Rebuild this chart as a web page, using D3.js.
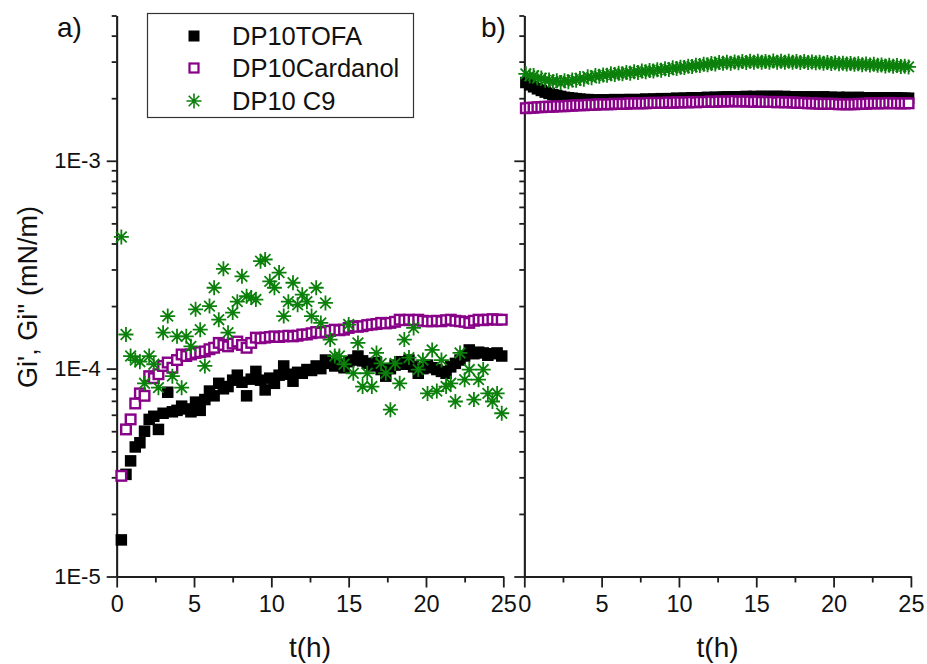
<!DOCTYPE html>
<html><head><meta charset="utf-8">
<script src="https://cdn.jsdelivr.net/npm/d3@7"></script>
<style>body{margin:0;background:#fff}svg{display:block}</style>
</head><body><svg id="c" width="927" height="664"></svg>
<script>
// ---------- data ----------
const seriesNames = ["DP10TOFA", "DP10Cardanol", "DP10 C9"];
const xTicks = [0, 5, 10, 15, 20, 25];
const xMinorTicks = [2.5, 7.5, 12.5, 17.5, 22.5];
const yTicks = [1e-5, 1e-4, 1e-3];
const panelLabels = ["a)", "b)"];

// panel a) time (h)
const tA = [0.3,0.6,0.9,1.2,1.5,1.8,2.1,2.4,2.7,3.0,3.3,3.6,3.9,4.2,4.5,4.8,5.1,5.4,5.7,6.0,
6.3,6.6,6.9,7.2,7.5,7.8,8.1,8.4,8.7,9.0,9.3,9.6,9.9,10.2,10.5,10.8,11.1,11.4,11.7,12.0,
12.3,12.6,12.9,13.2,13.5,13.8,14.1,14.4,14.7,15.0,15.3,15.6,15.9,16.2,16.5,16.8,17.1,17.4,17.7,18.0,
18.3,18.6,18.9,19.2,19.5,19.8,20.1,20.4,20.7,21.0,21.3,21.6,21.9,22.2,22.5,22.8,23.1,23.4,23.7,24.0,
24.3,24.6,24.9];
const tofaA = [1.5e-5,3.1e-5,3.6e-5,4.2e-5,4.4e-5,5.0e-5,5.7e-5,5.9e-5,5.1e-5,6.1e-5,
7.7e-5,6.2e-5,6.3e-5,6.6e-5,6.4e-5,6.2e-5,6.9e-5,6.3e-5,7.1e-5,7.8e-5,
7.4e-5,8.5e-5,8.0e-5,8.2e-5,8.8e-5,9.3e-5,8.6e-5,7.4e-5,8.9e-5,9.7e-5,
8.8e-5,7.9e-5,9.0e-5,8.5e-5,9.3e-5,1.03e-4,9.4e-5,8.7e-5,9.6e-5,9.5e-5,
9.9e-5,9.8e-5,1.03e-4,1.0e-4,1.1e-4,1.06e-4,1.03e-4,1.05e-4,1.01e-4,1.08e-4,
1.1e-4,1.15e-4,1.09e-4,1.06e-4,1.03e-4,1.07e-4,9.9e-5,9.2e-5,1.0e-4,1.04e-4,
1.08e-4,1.05e-4,1.1e-4,1.02e-4,9.5e-5,1.0e-4,1.04e-4,1.01e-4,9.9e-5,9.7e-5,
9.5e-5,1.02e-4,1.06e-4,1.1e-4,1.15e-4,1.23e-4,1.18e-4,1.2e-4,1.19e-4,1.16e-4,
1.18e-4,1.19e-4,1.15e-4];
const cardA = [3.05e-5,5.1e-5,5.7e-5,6.8e-5,7.6e-5,7.4e-5,9.2e-5,9.0e-5,9.4e-5,1.03e-4,
1.07e-4,1.01e-4,1.1e-4,1.17e-4,1.15e-4,1.17e-4,1.19e-4,1.2e-4,1.21e-4,1.24e-4,
1.26e-4,1.33e-4,1.3e-4,1.28e-4,1.32e-4,1.35e-4,1.3e-4,1.26e-4,1.33e-4,1.41e-4,
1.4e-4,1.41e-4,1.42e-4,1.43e-4,1.42e-4,1.43e-4,1.44e-4,1.43e-4,1.44e-4,1.46e-4,
1.46e-4,1.48e-4,1.5e-4,1.49e-4,1.5e-4,1.52e-4,1.54e-4,1.53e-4,1.54e-4,1.57e-4,
1.6e-4,1.59e-4,1.6e-4,1.62e-4,1.63e-4,1.64e-4,1.66e-4,1.65e-4,1.66e-4,1.68e-4,
1.72e-4,1.71e-4,1.72e-4,1.71e-4,1.72e-4,1.7e-4,1.69e-4,1.69e-4,1.7e-4,1.69e-4,
1.71e-4,1.72e-4,1.7e-4,1.69e-4,1.68e-4,1.66e-4,1.7e-4,1.72e-4,1.71e-4,1.72e-4,
1.73e-4,1.72e-4,1.72e-4];
const c9A = [4.3e-4,1.46e-4,1.15e-4,1.1e-4,1.08e-4,8.5e-5,1.15e-4,1.05e-4,8.1e-5,1.49e-4,
1.79e-4,9.2e-5,1.43e-4,8.1e-5,1.43e-4,1.28e-4,1.93e-4,1.54e-4,1.03e-4,2.0e-4,
2.45e-4,1.72e-4,3.02e-4,1.49e-4,1.86e-4,2.1e-4,2.78e-4,2.23e-4,2.2e-4,2.15e-4,
3.29e-4,3.35e-4,2.63e-4,2.45e-4,2.9e-4,1.79e-4,2.1e-4,2.59e-4,2.03e-4,2.27e-4,
2.1e-4,1.79e-4,2.45e-4,1.66e-4,2.07e-4,1.38e-4,1.15e-4,1.15e-4,1.05e-4,1.63e-4,
9.5e-5,1.33e-4,8.2e-5,9.5e-5,8.2e-5,1.19e-4,1.06e-4,9.5e-5,6.35e-5,1.06e-4,
8.5e-5,1.38e-4,1.13e-4,1.57e-4,9.9e-5,1.1e-4,7.6e-5,1.23e-4,7.8e-5,1.1e-4,
8.2e-5,8.5e-5,6.95e-5,1.19e-4,8.85e-5,9.9e-5,7.1e-5,8.85e-5,9.9e-5,7.6e-5,
6.95e-5,7.6e-5,6.1e-5];

// panel b) time (h)
const tB = [0.1,0.35,0.6,0.85,1.1,1.35,1.6,1.85,2.1,2.35,2.6,2.85,3.1,3.35,3.6,3.85,4.1,4.35,4.6,4.85,
5.1,5.35,5.6,5.85,6.1,6.35,6.6,6.85,7.1,7.35,7.6,7.85,8.1,8.35,8.6,8.85,9.1,9.35,9.6,9.85,
10.1,10.35,10.6,10.85,11.1,11.35,11.6,11.85,12.1,12.35,12.6,12.85,13.1,13.35,13.6,13.85,14.1,14.35,14.6,14.85,
15.1,15.35,15.6,15.85,16.1,16.35,16.6,16.85,17.1,17.35,17.6,17.85,18.1,18.35,18.6,18.85,19.1,19.35,19.6,19.85,
20.1,20.35,20.6,20.85,21.1,21.35,21.6,21.85,22.1,22.35,22.6,22.85,23.1,23.35,23.6,23.85,24.1,24.35,24.6,24.85];
const tofaB = [0.00238,0.00232,0.00227,0.00222,0.00218,0.00214,0.00211,0.00208,0.00206,0.00204,
0.00202,0.00201,0.00200,0.00199,0.00198,0.00197,0.00197,0.00196,0.00196,0.00196,
0.00196,0.00196,0.00196,0.00197,0.00196,0.00196,0.00197,0.00197,0.00196,0.00197,
0.00197,0.00198,0.00197,0.00198,0.00198,0.00199,0.00198,0.00199,0.00199,0.00200,
0.00199,0.00200,0.00200,0.00201,0.00200,0.00201,0.00201,0.00202,0.00201,0.00202,
0.00202,0.00202,0.00203,0.00202,0.00203,0.00203,0.00203,0.00204,0.00203,0.00204,
0.00203,0.00204,0.00204,0.00203,0.00204,0.00204,0.00203,0.00204,0.00203,0.00203,
0.00203,0.00202,0.00203,0.00202,0.00203,0.00202,0.00202,0.00203,0.00202,0.00202,
0.00201,0.00202,0.00201,0.00202,0.00201,0.00201,0.00202,0.00201,0.00201,0.00201,
0.00200,0.00201,0.00201,0.00200,0.00201,0.00200,0.00201,0.00200,0.00200,0.00200];
const cardB = [0.00179,0.00180,0.00180,0.00181,0.00181,0.00182,0.00182,0.00182,0.00183,0.00183,
0.00183,0.00184,0.00184,0.00185,0.00185,0.00185,0.00186,0.00186,0.00186,0.00187,
0.00187,0.00187,0.00187,0.00188,0.00188,0.00188,0.00188,0.00189,0.00189,0.00189,
0.00189,0.00189,0.00190,0.00190,0.00190,0.00190,0.00190,0.00191,0.00190,0.00191,
0.00191,0.00191,0.00191,0.00192,0.00191,0.00192,0.00192,0.00192,0.00193,0.00192,
0.00193,0.00193,0.00193,0.00193,0.00194,0.00193,0.00193,0.00193,0.00193,0.00192,
0.00193,0.00192,0.00192,0.00192,0.00192,0.00191,0.00192,0.00191,0.00191,0.00191,
0.00190,0.00190,0.00190,0.00189,0.00189,0.00189,0.00188,0.00188,0.00188,0.00188,
0.00188,0.00187,0.00187,0.00187,0.00187,0.00187,0.00188,0.00188,0.00188,0.00189,
0.00189,0.00189,0.00189,0.00189,0.00190,0.00189,0.00189,0.00189,0.00189,0.00189];
const c9B = [0.00262,0.00256,0.00257,0.00250,0.00250,0.00244,0.00245,0.00240,0.00243,0.00238,
0.00243,0.00240,0.00245,0.00244,0.00249,0.00247,0.00254,0.00251,0.00257,0.00255,
0.00259,0.00258,0.00262,0.00260,0.00264,0.00262,0.00266,0.00264,0.00268,0.00266,
0.00270,0.00268,0.00272,0.00270,0.00274,0.00273,0.00277,0.00275,0.00280,0.00278,
0.00282,0.00281,0.00285,0.00284,0.00288,0.00287,0.00291,0.00290,0.00294,0.00292,
0.00297,0.00295,0.00298,0.00295,0.00299,0.00296,0.00300,0.00297,0.00301,0.00298,
0.00301,0.00298,0.00300,0.00298,0.00302,0.00298,0.00301,0.00298,0.00301,0.00298,
0.00300,0.00297,0.00300,0.00297,0.00299,0.00296,0.00298,0.00295,0.00297,0.00294,
0.00296,0.00293,0.00295,0.00292,0.00294,0.00291,0.00293,0.00290,0.00292,0.00289,
0.00291,0.00288,0.00289,0.00286,0.00288,0.00285,0.00287,0.00284,0.00285,0.00283];

// ---------- drawing ----------
const FONT = "'Liberation Sans', Arial, sans-serif";
const AXIS_COLOR = "#1e1e1e";
const COLORS = {tofa: "#000000", card: "#880088", c9: "#0b800b"};
const svg = d3.select("#c");

const y = d3.scaleLog().domain([1e-5, 5e-3]).range([576.5, 15.5]);
const xA = d3.scaleLinear().domain([0, 25]).range([116.7, 503.3]);
const xB = d3.scaleLinear().domain([0, 25]).range([524.3, 910.9]);

// minor log ticks 2..9 per decade
const yMinor = [];
[1e-5, 1e-4, 1e-3].forEach(d => { for (let k = 2; k <= 9; k++) { const v = k * d; if (v <= 5e-3 * 1.0001) yMinor.push(v); } });

const fmtY = v => "1E" + Math.round(Math.log10(v));

function styleAxis(g) {
  g.select(".domain").attr("stroke", AXIS_COLOR).attr("stroke-width", 1.8);
  g.selectAll(".tick line").attr("stroke", AXIS_COLOR).attr("stroke-width", 1.8);
  g.selectAll("text").attr("fill", "#111").attr("font-family", FONT);
}

function drawAxes(x, showYLabels) {
  const x0 = x.range()[0];
  svg.append("g").attr("transform", `translate(${x0},0)`)
    .call(d3.axisLeft(y).tickValues(yMinor).tickSize(5).tickSizeOuter(0).tickFormat(""))
    .call(styleAxis);
  svg.append("g").attr("transform", `translate(${x0},0)`)
    .call(d3.axisLeft(y).tickValues(yTicks).tickSize(10).tickSizeOuter(0).tickPadding(6)
      .tickFormat(showYLabels ? fmtY : ""))
    .call(styleAxis)
    .selectAll("text").attr("font-size", 22);
  const yb = y.range()[0];
  svg.append("g").attr("transform", `translate(0,${yb})`)
    .call(d3.axisBottom(x).tickValues(xMinorTicks).tickSize(6).tickSizeOuter(0).tickFormat(""))
    .call(styleAxis);
  svg.append("g").attr("transform", `translate(0,${yb})`)
    .call(d3.axisBottom(x).tickValues(xTicks).tickSize(11).tickSizeOuter(0).tickPadding(8).tickFormat(d3.format("d")))
    .call(styleAxis)
    .selectAll("text").attr("font-size", 23.5);
}
drawAxes(xA, true);
drawAxes(xB, false);

// symbols
const starPath = (r => { const d = r * 0.7071;
  return `M0,${-r}V${r}M${-r},0H${r}M${-d},${-d}L${d},${d}M${-d},${d}L${d},${-d}`; })(7.5);

function drawSquares(x, t, vals, open) {
  const s = open ? 9.6 : 11.5;
  svg.append("g").selectAll("rect").data(t.map((tt, i) => [tt, vals[i]])).join("rect")
    .attr("x", d => x(d[0]) - s / 2).attr("y", d => y(d[1]) - s / 2)
    .attr("width", s).attr("height", s)
    .attr("fill", open ? "#fff" : COLORS.tofa)
    .attr("stroke", open ? COLORS.card : "none")
    .attr("stroke-width", open ? 2.4 : 0);
}
function drawStars(x, t, vals) {
  svg.append("g").selectAll("path").data(t.map((tt, i) => [tt, vals[i]])).join("path")
    .attr("transform", d => `translate(${x(d[0])},${y(d[1])})`)
    .attr("d", starPath).attr("fill", "none")
    .attr("stroke", COLORS.c9).attr("stroke-width", 1.8);
}
drawSquares(xA, tA, tofaA, false);
drawSquares(xA, tA, cardA, true);
drawStars(xA, tA, c9A);
drawSquares(xB, tB, tofaB, false);
drawSquares(xB, tB, cardB, true);
drawStars(xB, tB, c9B);

// legend
const lg = svg.append("g");
lg.append("rect").attr("x", 147.5).attr("y", 13.5).attr("width", 266).attr("height", 104)
  .attr("fill", "#fff").attr("stroke", "#333").attr("stroke-width", 1.2);
const ly = [36, 68, 101];
lg.append("rect").attr("x", 194 - 5.5).attr("y", ly[0] - 5.5).attr("width", 11).attr("height", 11).attr("fill", COLORS.tofa);
lg.append("rect").attr("x", 194 - 4.5).attr("y", ly[1] - 4.5).attr("width", 9).attr("height", 9)
  .attr("fill", "#fff").attr("stroke", COLORS.card).attr("stroke-width", 2.2);
lg.append("path").attr("transform", `translate(194,${ly[2]})`).attr("d", starPath)
  .attr("fill", "none").attr("stroke", COLORS.c9).attr("stroke-width", 1.6);
seriesNames.forEach((n, i) => {
  lg.append("text").attr("x", 232).attr("y", ly[i] + 9).text(n)
    .attr("font-family", FONT).attr("font-size", 25.5).attr("fill", "#111");
});

// panel labels
svg.append("text").attr("x", 57).attr("y", 37).text(panelLabels[0])
  .attr("font-family", FONT).attr("font-size", 28).attr("fill", "#111");
svg.append("text").attr("x", 481).attr("y", 37).text(panelLabels[1])
  .attr("font-family", FONT).attr("font-size", 28).attr("fill", "#111");

// axis titles
[xA, xB].forEach(x => {
  svg.append("text").attr("x", (x.range()[0] + x.range()[1]) / 2).attr("y", 657)
    .attr("text-anchor", "middle").text("t(h)")
    .attr("font-family", FONT).attr("font-size", 28).attr("fill", "#111");
});
svg.append("text").attr("transform", "translate(37,297) rotate(-90)")
  .attr("text-anchor", "middle").text("Gi', Gi'' (mN/m)")
  .attr("font-family", FONT).attr("font-size", 27).attr("fill", "#111");
</script>
</body></html>
